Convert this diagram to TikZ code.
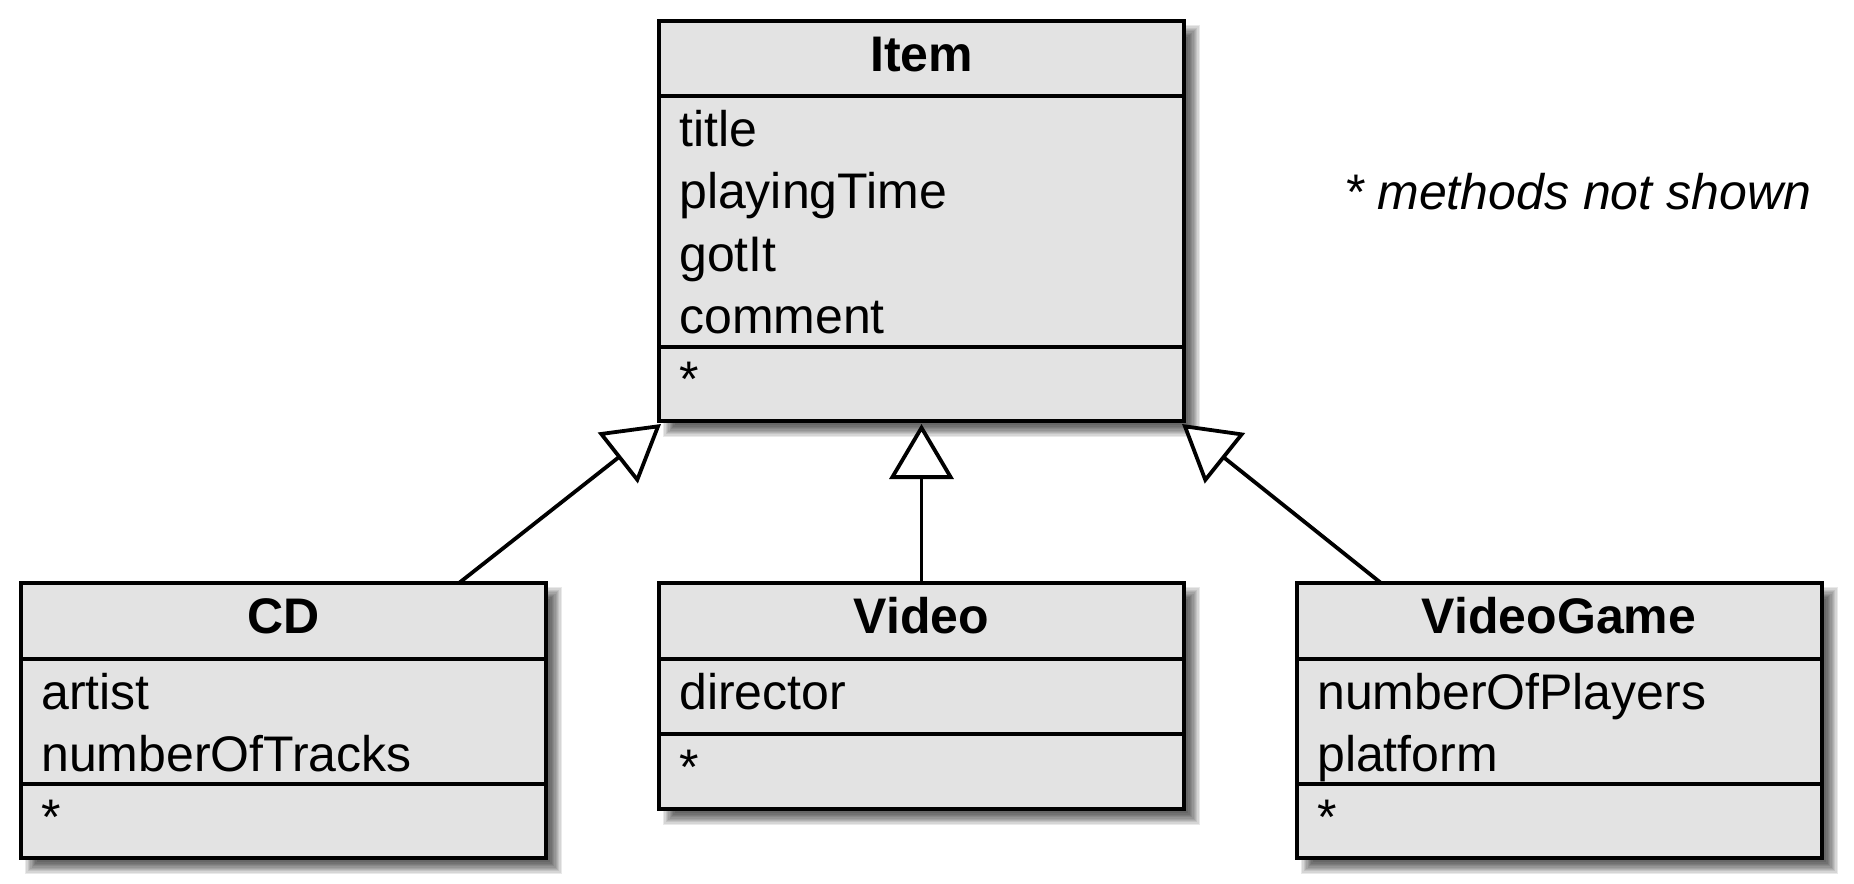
\documentclass[tikz,border=0pt]{standalone}
\usepackage{fontspec}
\setmainfont{Liberation Sans}
\usetikzlibrary{arrows.meta,calc}
\definecolor{boxfill}{RGB}{227,227,227}
\pgfdeclarelayer{bg}
\pgfsetlayers{bg,main}
\newcommand{\boxshade}[1]{%
  \begin{pgfonlayer}{bg}
  \foreach \k in {0,...,9}{%
    \pgfmathsetmacro{\e}{6-1.3*\k}
    \fill[black,opacity=0.085] ($(#1.north west)+(10-\e,10-\e)$) rectangle ($(#1.south east)+(10+\e,10+\e)$);
  }
  \end{pgfonlayer}}
\begin{document}
\begin{tikzpicture}[x=1pt,y=-1pt,
  classbox/.style={draw, line width=4.2pt, fill=boxfill, rectangle, inner sep=0pt, outer sep=0pt, anchor=north west},
  sepline/.style={line width=3.8pt},
  classname/.style={font=\bfseries\fontsize{50}{62.5}\selectfont, anchor=base, inner sep=0pt},
  member/.style={font=\fontsize{50}{62.5}\selectfont, anchor=base west, inner sep=0pt},
  notetext/.style={font=\itshape\fontsize{50}{62.5}\selectfont, anchor=base west, inner sep=0pt},
  gen/.style={line width=3.8pt, -{Triangle[length=55pt,width=64pt,fill=white]}},
]
\useasboundingbox (0,0) rectangle (1854,883);

% class boxes
\node[classbox, minimum width=525pt, minimum height=400pt] (item) at (659,21) {};
\node[classbox, minimum width=525pt, minimum height=275pt] (cd) at (21,583) {};
\node[classbox, minimum width=525pt, minimum height=226pt] (video) at (659,583) {};
\node[classbox, minimum width=525pt, minimum height=275pt] (game) at (1297,583) {};

\boxshade{item}
\boxshade{cd}
\boxshade{video}
\boxshade{game}

% compartment separators
\draw[sepline] ($(item.north west)+(0,75)$) -- ($(item.north east)+(0,75)$);
\draw[sepline] ($(item.north west)+(0,326)$) -- ($(item.north east)+(0,326)$);
\draw[sepline] ($(cd.north west)+(0,76)$) -- ($(cd.north east)+(0,76)$);
\draw[sepline] ($(cd.north west)+(0,201)$) -- ($(cd.north east)+(0,201)$);
\draw[sepline] ($(video.north west)+(0,76)$) -- ($(video.north east)+(0,76)$);
\draw[sepline] ($(video.north west)+(0,151)$) -- ($(video.north east)+(0,151)$);
\draw[sepline] ($(game.north west)+(0,76)$) -- ($(game.north east)+(0,76)$);
\draw[sepline] ($(game.north west)+(0,201)$) -- ($(game.north east)+(0,201)$);

% Item
\node[classname] (itemname) at (921.5,71.5) {Item};
\node[member] (ititle) at (679,146) {title};
\node[member] (iplay) at (679,208.5) {playingTime};
\node[member] (igot) at (679,271) {gotIt};
\node[member] (icom) at (679,333) {comment};
\node[member] (iops) at (679,396) {*};

% CD
\node[classname] (cdname) at (283.5,633) {CD};
\node[member] (cdartist) at (41,709) {artist};
\node[member] (cdtracks) at (41,771.5) {numberOfTracks};
\node[member] (cdops) at (41,834) {*};

% Video
\node[classname] (videoname) at (921.5,633) {Video};
\node[member] (vdir) at (679,709) {director};
\node[member] (vops) at (679,784) {*};

% VideoGame
\node[classname] (gamename) at (1559,633) {VideoGame};
\node[member] (gplayers) at (1317,709) {numberOfPlayers};
\node[member] (gplat) at (1317,771.5) {platform};
\node[member] (gops) at (1317,834) {*};

% note
\node[notetext] (note) at (1344,209) {* methods not shown};

% generalisations
\draw[gen] ($(cd.north east)+(-87,0)$) -- ($(item.south west)+(2,3)$);
\draw[gen] (video.north) -- ($(item.south)+(0,3)$);
\draw[gen] ($(game.north west)+(84,0)$) -- ($(item.south east)+(-2,3)$);
\end{tikzpicture}
\end{document}
